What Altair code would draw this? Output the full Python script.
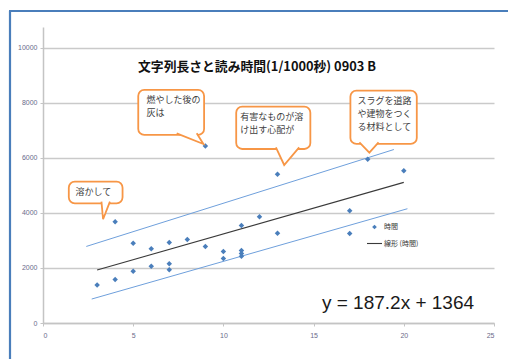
import altair as alt
import pandas as pd

# String length (characters) vs. reading time (1/1000 s)
char_len = [3, 4, 4, 5, 5, 6, 6, 7, 7, 7, 8, 9, 9, 10, 10, 11, 11, 11, 11, 12, 13, 13, 17, 17, 18, 20]
read_ms = [1380, 1580, 3680, 2900, 1880, 2700, 2060, 2920, 2150, 1930, 3030, 2780, 6430,
           2600, 2340, 3540, 2630, 2520, 2420, 3860, 5400, 3260, 4080, 3250, 5950, 5530]

# Linear trend
fit_slope = 187.2
fit_icept = 1364
fit_range = [3, 20]

# Hand-drawn band lines
upper_x = [2.4, 19.45]
upper_y = [2780, 6300]
lower_x = [2.7, 20.2]
lower_y = [870, 4150]

# Speech-bubble notes: box extents, text anchor and pointer
note_text = ["溶かして", "燃やした後の\n灰は", "有害なものが溶\nけ出す心配が", "スラグを道路\nや建物をつく\nる材料として"]
box_left = [1.43, 5.28, 10.71, 17.04]
box_right = [4.41, 8.93, 14.82, 20.72]
box_bottom = [4348, 6829, 6320, 6502]
box_top = [5133, 8463, 7857, 8438]
text_left = [1.8, 5.74, 10.93, 17.44]
ptr_left = [3.24, 7.41, 12.91, 17.54]
ptr_right = [3.71, 8.52, 14.2, 18.6]
ptr_tip_x = [3.33, 8.89, 13.37, 18.09]
ptr_tip_y = [3767, 6502, 5739, 6186]

title_text = "文字列長さと読み時間(1/1000秒) 0903 B"
equation = f"y = {fit_slope}x + {fit_icept}"
x_ticks = [0, 5, 10, 15, 20, 25]
y_ticks = [0, 2000, 4000, 6000, 8000, 10000]

BLUE = "#4A7EBB"
ORANGE = "#F79646"
LABEL_FONT = "Liberation Sans"
JP_FONT = "Noto Sans CJK JP"

W, H = 451, 296

xs = alt.Scale(domain=[0, 25], nice=False, zero=False)
ys = alt.Scale(domain=[0, 10750], nice=False, zero=False)

x_axis = alt.Axis(values=x_ticks, grid=False, title=None, labelFontSize=7, labelColor="#6b6b8a",
                  domainColor="#c4c4c4", domainWidth=1.5, tickColor="#c4c4c4", tickSize=3,
                  labelPadding=5, labelFont=LABEL_FONT, format="d")
y_axis = alt.Axis(values=y_ticks, grid=True, gridColor="#cacaca", gridWidth=1.6, title=None,
                  labelFontSize=7, labelColor="#6b6b8a", domainColor="#c4c4c4", domainWidth=1.5,
                  tickColor="#c4c4c4", tickSize=3, labelPadding=3, labelFont=LABEL_FONT, format="d")


def X(field):
    return alt.X(field, type="quantitative", scale=xs, axis=x_axis)


def Y(field):
    return alt.Y(field, type="quantitative", scale=ys, axis=y_axis)


pts = pd.DataFrame({"x": char_len, "y": read_ms})
fit = pd.DataFrame({"x": fit_range, "y": [fit_slope * v + fit_icept for v in fit_range]})
band = pd.DataFrame({
    "x": upper_x + lower_x,
    "y": upper_y + lower_y,
    "side": ["upper"] * 2 + ["lower"] * 2,
})
boxes = pd.DataFrame({
    "x0": box_left, "x1": box_right, "y0": box_bottom, "y1": box_top,
    "tx": text_left, "txt": note_text,
})
ptr_rows = []
for i in range(len(note_text)):
    inset = 60
    ptr_rows.append({"id": i, "o": 0, "x": ptr_left[i], "y": box_bottom[i] + inset})
    ptr_rows.append({"id": i, "o": 1, "x": ptr_tip_x[i], "y": ptr_tip_y[i]})
    ptr_rows.append({"id": i, "o": 2, "x": ptr_right[i], "y": box_bottom[i] + inset})
ptrs = pd.DataFrame(ptr_rows)

band_layer = alt.Chart(band).mark_line(color="#6FA0DC", strokeWidth=1).encode(
    x=X("x"), y=Y("y"), detail="side:N")

fit_layer = alt.Chart(fit).mark_line(color="#3a3a3a", strokeWidth=1.1).encode(x=X("x"), y=Y("y"))

pt_layer = alt.Chart(pts).mark_point(shape="diamond", filled=True, size=30, color=BLUE, opacity=1).encode(
    x=X("x"), y=Y("y"))

box_layer = alt.Chart(boxes).mark_rect(fill="white", stroke=ORANGE, strokeWidth=1.8, cornerRadius=6).encode(
    x=X("x0"), x2="x1", y=Y("y0"), y2="y1")

ptr_layer = alt.Chart(ptrs).mark_line(fill="white", stroke=ORANGE, strokeWidth=1.8, strokeJoin="miter").encode(
    x=X("x"), y=Y("y"), detail="id:N", order="o:Q")

note_layer = alt.Chart(boxes).mark_text(align="left", baseline="top", fontSize=9, font=JP_FONT,
                                        color="#404040", lineBreak="\n", lineHeight=13, dy=6).encode(
    x=X("tx"), y=Y("y1"), text="txt:N")

title_layer = alt.Chart(pd.DataFrame({"t": [title_text]})).mark_text(
    fontSize=12.8, fontWeight="bold", font=JP_FONT, color="#111111", align="center", baseline="middle").encode(
    x=alt.value(214), y=alt.value(40), text="t:N")

eq_layer = alt.Chart(pd.DataFrame({"t": [equation]})).mark_text(
    fontSize=19, font=LABEL_FONT, color="#1a1a1a", align="center", baseline="middle").encode(
    x=alt.value(355), y=alt.value(276), text="t:N")

legend_df = pd.DataFrame({"t": ["時間", "線形 (時間)"], "yy": [200, 216.5]})
leg_text = alt.Chart(legend_df).mark_text(fontSize=7, font=JP_FONT, color="#333333", align="left",
                                          baseline="middle").encode(
    x=alt.value(341), y=alt.Y("yy:Q", scale=None), text="t:N")
leg_mark = alt.Chart(pd.DataFrame({"a": [0]})).mark_point(shape="diamond", filled=True, size=22, color=BLUE,
                                                           opacity=1).encode(
    x=alt.value(331.5), y=alt.value(200))
leg_line = alt.Chart(pd.DataFrame({"a": [0]})).mark_rule(color="#3a3a3a", strokeWidth=1.1).encode(
    x=alt.value(324), x2=alt.value(339), y=alt.value(216.5))

frame_v = alt.Chart(pd.DataFrame({"a": [0]})).mark_rule(color=BLUE, strokeWidth=2.2).encode(
    x=alt.value(-33), y=alt.value(-16), y2=alt.value(360))
frame_h = alt.Chart(pd.DataFrame({"a": [0]})).mark_rule(color=BLUE, strokeWidth=2.2).encode(
    x=alt.value(-34), x2=alt.value(480), y=alt.value(-16))

chart = alt.layer(
    band_layer, fit_layer, pt_layer, box_layer, ptr_layer, note_layer,
    title_layer, eq_layer, leg_text, leg_mark, leg_line, frame_v, frame_h,
).properties(
    width=W, height=H,
    autosize=alt.AutoSizeParams(type="none"),
    padding={"left": 43, "top": 27, "right": 14, "bottom": 36},
    background="white",
).configure_view(stroke=None)

chart.save("out.html", embed_options={"renderer": "svg", "actions": False})
